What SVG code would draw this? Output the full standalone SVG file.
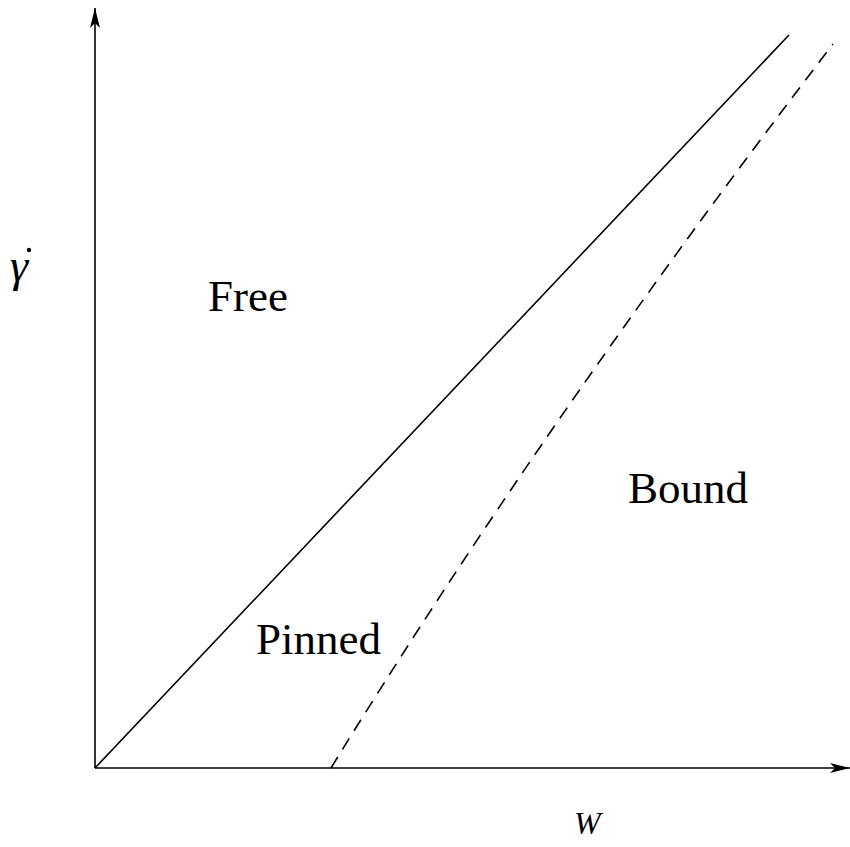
<svg xmlns="http://www.w3.org/2000/svg" width="850" height="847" viewBox="0 0 850 847">
<style>
.ln{fill:none;stroke:#000;stroke-width:1.6}
.lbl{font-family:"Liberation Serif","Times New Roman",serif;font-size:45px;fill:#000}
.ax{font-family:"Liberation Serif","Times New Roman",serif;font-style:italic;fill:#000}
</style>
<defs>
<marker id="arr" markerWidth="22" markerHeight="12" refX="20" refY="5" orient="auto" markerUnits="userSpaceOnUse">
<path d="M0,0 L20,5 L0,10 L5,5 Z" fill="#000"/>
</marker>
</defs>
<g id="connectors">
<line class="ln" x1="95" y1="768" x2="95" y2="8" marker-end="url(#arr)"/>
<line class="ln" x1="95" y1="768" x2="850" y2="768" marker-end="url(#arr)"/>
<line class="ln" x1="95" y1="768" x2="789" y2="35"/>
<path class="ln" d="M331,768 Q545,420 833,44" stroke-dasharray="13,9"/>
</g>
<g id="free"><text class="lbl" x="208" y="311">Free</text></g>
<g id="bound"><text class="lbl" x="628" y="503">Bound</text></g>
<g id="pinned"><text class="lbl" x="256" y="654">Pinned</text></g>
<g id="ylabel"><text class="ax" x="10" y="281" font-size="46">γ</text><circle cx="29" cy="250" r="2.2"/></g>
<g id="xlabel"><text class="ax" x="574" y="834" font-size="32">W</text></g>
</svg>
